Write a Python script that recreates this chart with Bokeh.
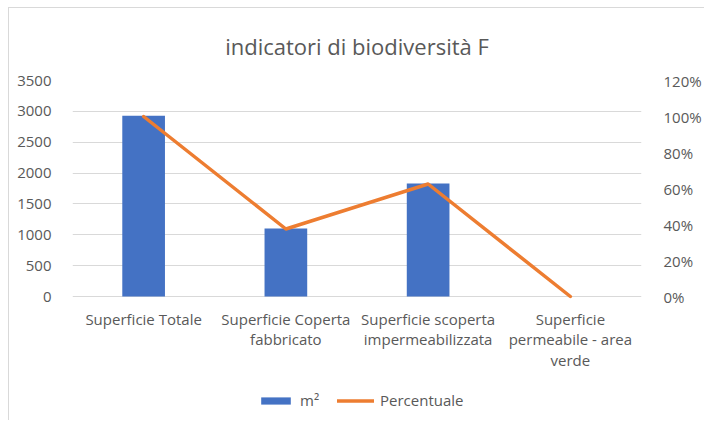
from bokeh.plotting import figure
from bokeh.models import (Range1d, LinearAxis, FixedTicker, Legend, LegendItem,
                          NumeralTickFormatter)
from bokeh.embed import file_html
from bokeh.resources import INLINE

# ---- data ----
categories = ["Superficie Totale", "Superficie Coperta fabbricato",
              "Superficie scoperta impermeabilizzata",
              "Superficie permeabile - area verde"]
category_labels = ["Superficie Totale", "Superficie Coperta\nfabbricato",
                   "Superficie scoperta\nimpermeabilizzata",
                   "Superficie\npermeabile - area\nverde"]
area_m2 = [2930, 1100, 1830, 0]
percentuale = [1.0, 0.375, 0.625, 0.0]
left_ticks = [0, 500, 1000, 1500, 2000, 2500, 3000, 3500]
right_ticks = [0, 0.2, 0.4, 0.6, 0.8, 1.0, 1.2]
title_text = "indicatori di biodiversità F"

FONT = "Open Sans"
TXT = "#595959"

# layout: value area is 216 px tall, extra 124 px below zero hold labels/legend
PLOT_H = 216
EXTRA_H = 124
Y_MAX = 3500
P_MAX = 1.2

xs = list(range(len(categories)))

p = figure(frame_width=569, frame_height=PLOT_H + EXTRA_H,
           x_range=Range1d(-0.5, len(categories) - 0.5),
           y_range=Range1d(-Y_MAX * EXTRA_H / PLOT_H, Y_MAX),
           output_backend="svg", toolbar_location=None,
           min_border_left=63, min_border_right=63, min_border_top=72,
           min_border_bottom=0)
p.outline_line_color = None
p.background_fill_color = "white"
p.border_fill_color = "white"

p.title.text = title_text
p.title.align = "center"
p.title.text_font = FONT
p.title.text_font_size = "22px"
p.title.text_font_style = "normal"
p.title.text_color = TXT
p.title.standoff = 40
p.title.offset = -4

# grid
p.xgrid.grid_line_color = None
p.ygrid.ticker = FixedTicker(ticks=left_ticks)
p.ygrid.grid_line_color = "#d9d9d9"
p.ygrid.grid_line_width = 1

# left axis
ya = p.yaxis[0]
ya.ticker = FixedTicker(ticks=left_ticks)
ya.axis_line_color = None
ya.major_tick_line_color = None
ya.minor_tick_line_color = None
ya.major_label_text_font = FONT
ya.major_label_text_font_size = "15px"
ya.major_label_text_color = TXT
ya.major_label_standoff = 15

# right axis
p.extra_y_ranges = {"pct": Range1d(-P_MAX * EXTRA_H / PLOT_H, P_MAX)}
ra = LinearAxis(y_range_name="pct", ticker=FixedTicker(ticks=right_ticks),
                formatter=NumeralTickFormatter(format="0%"))
ra.axis_line_color = None
ra.major_tick_line_color = None
ra.minor_tick_line_color = None
ra.major_label_text_font = FONT
ra.major_label_text_font_size = "15px"
ra.major_label_text_color = TXT
ra.major_label_standoff = 16
p.add_layout(ra, "right")

# x axis (drawn at value 0)
xa = p.xaxis[0]
xa.fixed_location = 0
xa.ticker = FixedTicker(ticks=xs)
xa.major_label_overrides = {i: lab for i, lab in zip(xs, category_labels)}
xa.axis_line_color = None
xa.major_tick_line_color = None
xa.minor_tick_line_color = None
xa.major_tick_in = 0
xa.major_tick_out = 0
xa.major_label_text_font = FONT
xa.major_label_text_font_size = "15px"
xa.major_label_text_line_height = 1.04
xa.major_label_text_color = TXT
xa.major_label_standoff = 12

bars = p.vbar(x=xs, top=area_m2, width=0.3, fill_color="#4472C4",
              line_color=None)
line = p.line(x=xs, y=percentuale, y_range_name="pct", line_color="#ED7D31",
              line_width=3.5, line_join="round", line_cap="round")

legend = Legend(items=[LegendItem(label="m²", renderers=[bars]),
                       LegendItem(label="Percentuale", renderers=[line])],
                orientation="horizontal", location=(185, 10),
                glyph_width=37, glyph_height=9, label_standoff=6, spacing=17,
                padding=0, margin=0, border_line_color=None,
                background_fill_alpha=0, label_text_font=FONT,
                label_text_font_size="15px", label_text_color=TXT)
p.add_layout(legend, "center")

p.styles = {"margin-left": "8px", "margin-top": "7px",
            "border-top": "1px solid #d9d9d9", "border-left": "1px solid #d9d9d9"}

open("out.html", "w").write(file_html(p, INLINE))
